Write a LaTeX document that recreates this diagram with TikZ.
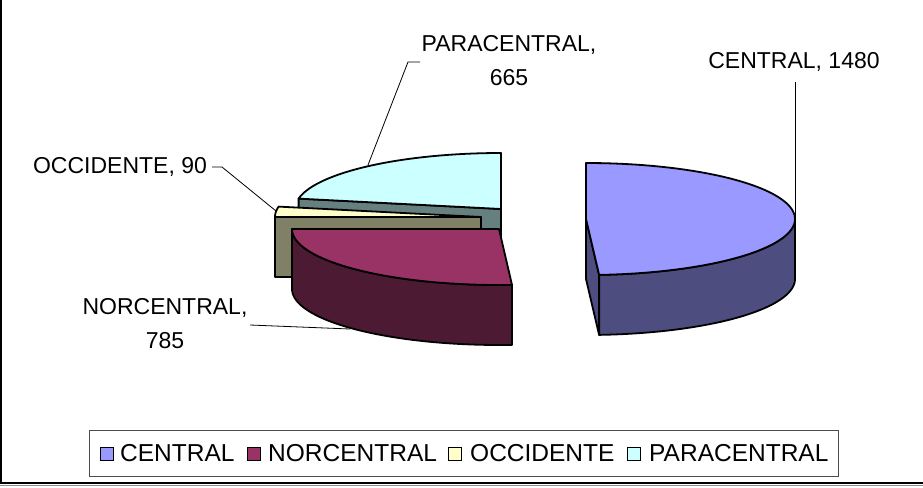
\documentclass[tikz,border=0pt]{standalone}
\usepackage{fontspec}
\setmainfont{Liberation Sans}
\definecolor{cenTop}{HTML}{9999FF}
\definecolor{cenSide}{HTML}{4D4D80}
\definecolor{norTop}{HTML}{993366}
\definecolor{norSide}{HTML}{4D1A33}
\definecolor{occTop}{HTML}{FFFFCC}
\definecolor{occSide}{HTML}{808066}
\definecolor{parTop}{HTML}{CCFFFF}
\definecolor{parSide}{HTML}{668080}
\begin{document}
\begin{tikzpicture}[x=1pt,y=-1pt,
  face/.style={draw=black,line width=1.8pt,line join=round},
  leader/.style={draw=black,line width=0.8pt},
  lbl/.style={inner sep=0pt,font=\fontsize{23}{34}\selectfont,align=center},
  legtxt/.style={inner sep=0pt,anchor=base west,font=\fontsize{24.5}{28}\selectfont},
  legsq/.style={draw=black,line width=1.2pt,minimum size=13pt,inner sep=0pt,anchor=north west}]
\useasboundingbox (0,0) rectangle (923,487);
% frame
\draw[line width=2.5pt] (1,-5) -- (1,483) -- (930,483);
\draw[line width=1.2pt,black!45] (0,485.8) -- (930,485.8);

% PARACENTRAL (back)
\path[face,fill=parSide] (501,209) -- (298.6,198.6) -- (298.6,258.6) -- (501,269) -- cycle;
\path[face,fill=parTop] (501,209) -- plot[domain=169.3:90,samples=50] ({501+206*cos(\x)},{209-56*sin(\x)}) -- cycle;

% OCCIDENTE
\path[face,fill=occSide] (481,217) -- (275,217) -- (275,277) -- (481,277) -- cycle;
\path[face,fill=occTop] (481,217) -- plot[domain=180:169.3,samples=10] ({481+206*cos(\x)},{217-56*sin(\x)}) -- cycle;

% NORCENTRAL
\path[face,fill=norSide] plot[domain=-86.4:-180,samples=60] ({499+207*cos(\x)},{229-56*sin(\x)}) -- plot[domain=-180:-86.4,samples=60] ({499+207*cos(\x)},{289-56*sin(\x)}) -- cycle;
\path[face,fill=norTop] (499,229) -- plot[domain=-86.4:-180,samples=60] ({499+207*cos(\x)},{229-56*sin(\x)}) -- cycle;

% CENTRAL
\path[face,fill=cenSide] (586,219) -- (599.1,274.9) -- (599.1,334.9) -- (586,279) -- cycle;
\path[face,fill=cenSide] plot[domain=0:-86.4,samples=60] ({586+209*cos(\x)},{219-56*sin(\x)}) -- plot[domain=-86.4:0,samples=60] ({586+209*cos(\x)},{279-56*sin(\x)}) -- cycle;
\path[face,fill=cenTop] (586,219) -- plot[domain=90:-86.4,samples=90] ({586+209*cos(\x)},{219-56*sin(\x)}) -- cycle;

% data labels
\node[lbl,anchor=base] (cenLbl) at (794,68.3) {CENTRAL, 1480};
\node[lbl] (parLbl) at (509,60.5) {PARACENTRAL,\\665};
\node[lbl,anchor=base] (occLbl) at (120,173.3) {OCCIDENTE, 90};
\node[lbl] (norLbl) at (165,323.5) {NORCENTRAL,\\785};

\coordinate (cenA) at (795,82);
\coordinate (cenB) at (795,219);
\coordinate (parA) at (420,62);
\coordinate (parB) at (408,62);
\coordinate (parC) at (368,165);
\coordinate (occA) at (212,167);
\coordinate (occB) at (222,167);
\coordinate (occC) at (276,211);
\coordinate (norA) at (250,325);
\coordinate (norB) at (350,329);
\draw[leader] (cenA) -- (cenB);
\draw[leader] (parA) -- (parB) -- (parC);
\draw[leader] (occA) -- (occB) -- (occC);
\draw[leader] (norA) -- (norB);

% legend
\node[draw=black!70,line width=1pt,minimum width=749pt,minimum height=46pt,inner sep=0pt] (legend) at (463.5,453) {};
\node[legsq,fill=cenTop] (sqCen) at (99.5,446.5) {};
\node[legtxt] (txCen) at (120,461) {CENTRAL};
\node[legsq,fill=norTop] (sqNor) at (246.5,446.5) {};
\node[legtxt] (txNor) at (268,461) {NORCENTRAL};
\node[legsq,fill=occTop] (sqOcc) at (447.5,446.5) {};
\node[legtxt] (txOcc) at (470,461) {OCCIDENTE};
\node[legsq,fill=parTop] (sqPar) at (626.5,446.5) {};
\node[legtxt] (txPar) at (649,461) {PARACENTRAL};
\end{tikzpicture}
\end{document}
